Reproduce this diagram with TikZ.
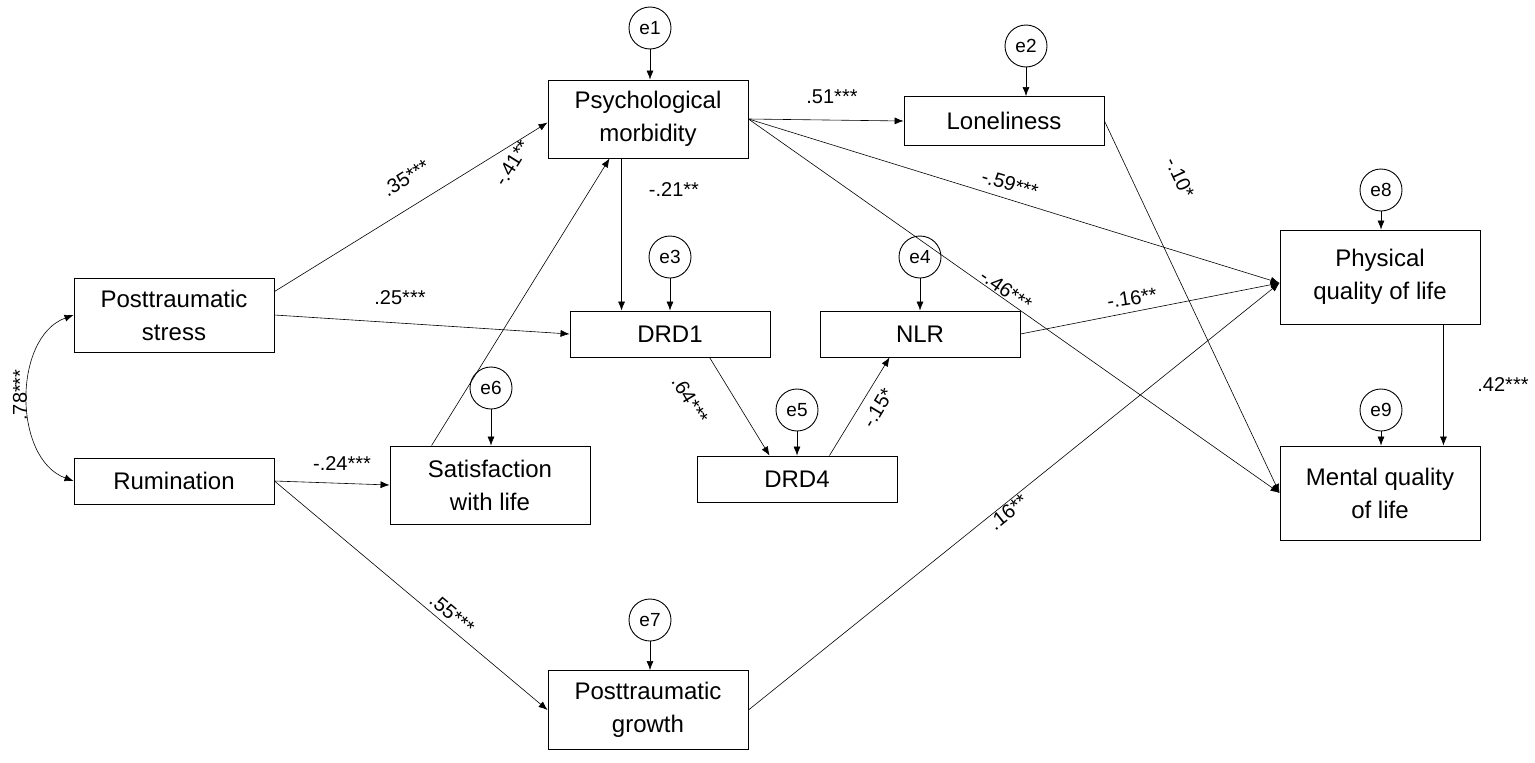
\documentclass[tikz,border=0pt]{standalone}
\usepackage{fontspec}
\setmainfont{Liberation Sans}
\usetikzlibrary{arrows.meta,calc}
\begin{document}
\begin{tikzpicture}[x=1pt,y=-1pt,
 box/.style={draw,line width=0.9pt,minimum width=200pt,align=center,font=\fontsize{24}{33}\selectfont,inner sep=0pt},
 err/.style={draw,circle,line width=0.9pt,minimum size=42pt,inner sep=0pt,font=\fontsize{19}{20}\selectfont},
 arr/.style={-{Latex[length=9pt,width=7pt]},line width=0.6pt},
 lab/.style={font=\fontsize{20}{22}\selectfont,inner sep=1pt}]
\useasboundingbox (0,0) rectangle (1535,763);
\node[box,minimum height=78pt] (pm) at (648,119) {Psychological\\morbidity};
\node[box,minimum height=49pt] (lo) at (1004,121) {Loneliness};
\node[box,minimum height=74pt] (ps) at (174,315) {Posttraumatic\\stress};
\node[box,minimum height=46pt] (ru) at (174,481) {Rumination};
\node[box,minimum height=78pt] (sa) at (490,485) {Satisfaction\\with life};
\node[box,minimum height=46pt] (d1) at (670,334) {DRD1};
\node[box,minimum height=46pt] (nl) at (920,334) {NLR};
\node[box,minimum height=46pt] (d4) at (797,479) {DRD4};
\node[box,minimum height=94pt] (ph) at (1380,277) {Physical\\quality of life};
\node[box,minimum height=94pt] (me) at (1380,493) {Mental quality\\of life};
\node[box,minimum height=79pt] (pg) at (648,710) {Posttraumatic\\growth};
\node[err] (e1) at (650,28) {e1};
\node[err] (e2) at (1026,46) {e2};
\node[err] (e3) at (670,257) {e3};
\node[err] (e4) at (920,257) {e4};
\node[err] (e5) at (797,410) {e5};
\node[err] (e6) at (491,388) {e6};
\node[err] (e7) at (650,620) {e7};
\node[err] (e8) at (1381,190) {e8};
\node[err] (e9) at (1381,410) {e9};
\foreach \a/\b in {e1/pm,e2/lo,e3/d1,e4/nl,e5/d4,e6/sa,e7/pg,e8/ph,e9/me}
  \draw[arr] (\a) -- (\a|-\b.north);
\coordinate (psa) at ($(ps.north east)+(0,14)$);
\coordinate (pma) at ($(pm.north west)+(0,43)$);
\coordinate (sat) at ($(sa.north west)+(42,0)$);
\coordinate (pmc) at ($(pm.south west)+(62,0)$);
\coordinate (pmb) at ($(pm.south west)+(74,0)$);
\coordinate (d1b) at ($(d1.south west)+(140,0)$);
\coordinate (d4t) at ($(d4.north west)+(73,0)$);
\coordinate (d4b) at ($(d4.north east)+(-68,0)$);
\coordinate (nlb) at ($(nl.south west)+(70,0)$);
\coordinate (phb) at ($(ph.south east)+(-37,0)$);
\coordinate (pha) at ($(ph.west)+(0,6)$);
\draw[arr] (psa) -- (pma);
\draw[arr] (ps.east) -- (d1.west);
\draw[arr] (ru.east) -- (sa.west);
\draw[arr] (sat) -- (pmc);
\draw[arr] (ru.east) -- (pg.west);
\draw[arr] (pmb) -- (pmb|-d1.north);
\draw[arr] (pm.east) -- (lo.west);
\draw[arr] (pm.east) -- (pha);
\draw[arr] (pm.east) -- (me.west);
\draw[arr] (lo.east) -- (me.west);
\draw[arr] (d1b) -- (d4t);
\draw[arr] (d4b) -- (nlb);
\draw[arr] (nl.east) -- (pha);
\draw[arr] (pg.east) -- (pha);
\draw[arr] (phb) -- (phb|-me.north);
\draw[{Latex[length=9pt,width=7pt]}-{Latex[length=9pt,width=7pt]},line width=0.6pt] (ps.west) to[out=200,in=160] (ru.west);
\node[lab,rotate=32] at (406,178) {.35***};
\node[lab] at (400,298) {.25***};
\node[lab] at (342,464) {-.24***};
\node[lab,rotate=58] at (512,163) {-.41**};
\node[lab,rotate=-40] at (452,614) {.55***};
\node[lab] at (674,190) {-.21**};
\node[lab] at (832,97) {.51***};
\node[lab,rotate=-17] at (1010,184) {-.59***};
\node[lab,rotate=-35] at (1006,290) {-.46***};
\node[lab,rotate=-65] at (1180,178) {-.10*};
\node[lab,rotate=-59] at (690,400) {.64***};
\node[lab,rotate=59] at (878,408) {-.15*};
\node[lab,rotate=9] at (1132,298) {-.16**};
\node[lab,rotate=39] at (1008,512) {.16**};
\node[lab] at (1503,385) {.42***};
\node[lab,rotate=90] at (20,395) {.78***};
\end{tikzpicture}
\end{document}
